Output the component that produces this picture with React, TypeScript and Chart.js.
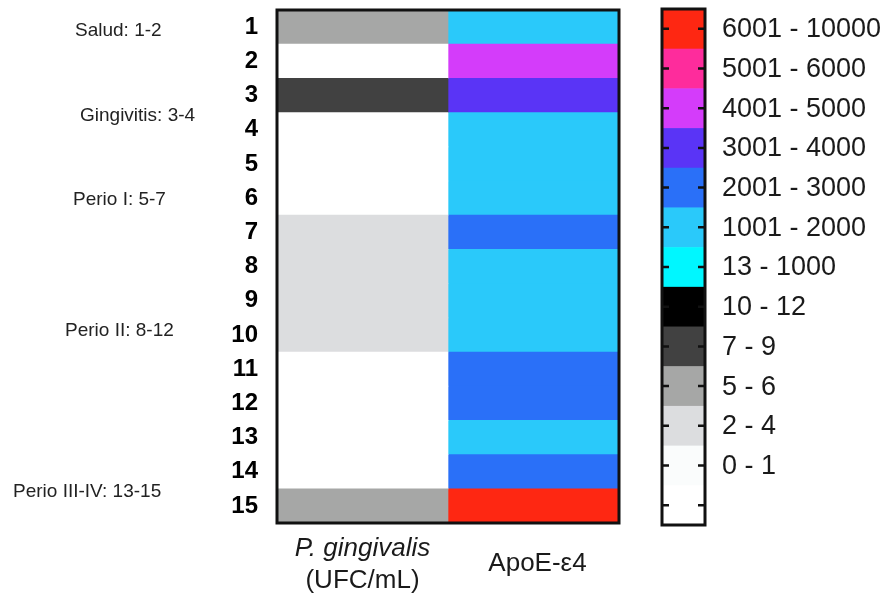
import React, { useEffect, useRef } from "react";
import { Chart, registerables } from "chart.js";

Chart.register(...registerables);

// ---- data ----
const rowLabels = ["1", "2", "3", "4", "5", "6", "7", "8", "9", "10", "11", "12", "13", "14", "15"];
const pgValues = [5, 0, 8, 0, 0, 0, 3, 3, 3, 3, 0, 0, 0, 0, 5];
const apoeValues = [1500, 4500, 3500, 1500, 1500, 1500, 2500, 1500, 1500, 1500, 2500, 2500, 1500, 2500, 8000];
const columnNames = ["P. gingivalis", "ApoE-ε4"];
const columnSubtitles = ["(UFC/mL)", ""];

const binLabels = ["6001 - 10000", "5001 - 6000", "4001 - 5000", "3001 - 4000", "2001 - 3000", "1001 - 2000", "13 - 1000", "10 - 12", "7 - 9", "5 - 6", "2 - 4", "0 - 1"];
const binLower = [6001, 5001, 4001, 3001, 2001, 1001, 13, 10, 7, 5, 2, 0];
const binColors = ["#fe2712", "#fe2c9c", "#d43cfa", "#5a34f6", "#2a70f8", "#2ac9fa", "#00f7ff", "#000000", "#414141", "#a6a7a6", "#dcdddf", "#fafcfc"];

const groupLabels = ["Salud: 1-2", "Gingivitis: 3-4", "Perio I: 5-7", "Perio II: 8-12", "Perio III-IV: 13-15"];
const groupRowPos = [1.1, 3.6, 6.05, 9.87, 14.58];

// ---- style ----
const FONT = "'Liberation Sans', Arial, sans-serif";
const groupLeftX = [75, 80, 73, 65, 13];

function colorFor(v: number): string {
  for (let i = 0; i < binLower.length; i++) {
    if (v >= binLower[i]) return binColors[i];
  }
  return "#ffffff";
}

const decorPlugin = {
  id: "decor",
  afterDraw(chart: any) {
    const ctx = chart.ctx as CanvasRenderingContext2D;
    const area = chart.chartArea;
    const xs = chart.scales.x;
    const ys = chart.scales.y;
    ctx.save();

    // heatmap frame
    ctx.strokeStyle = "#111";
    ctx.lineWidth = 3;
    ctx.strokeRect(area.left, area.top, area.right - area.left, area.bottom - area.top);

    // column labels
    ctx.fillStyle = "#1a1a1a";
    ctx.textAlign = "center";
    ctx.textBaseline = "alphabetic";
    const c0 = xs.getPixelForValue(0.5);
    const c1 = xs.getPixelForValue(1.5);
    ctx.font = `italic 26px ${FONT}`;
    ctx.fillText(columnNames[0], c0, 556);
    ctx.font = `26px ${FONT}`;
    ctx.fillText(columnSubtitles[0], c0, 588);
    ctx.fillText(columnNames[1], c1 + 4, 571);

    // group labels
    ctx.font = `19px ${FONT}`;
    ctx.textAlign = "left";
    ctx.textBaseline = "middle";
    ctx.fillStyle = "#222";
    groupLabels.forEach((t, i) => {
      const y = ys.getPixelForValue(groupRowPos[i] - 1);
      ctx.fillText(t, groupLeftX[i], y);
    });

    // colour bar legend
    const bx = 662;
    const bw = 43;
    const top = 9;
    const n = binLabels.length + 1;
    const segH = (525 - top) / n;
    for (let i = 0; i < n; i++) {
      ctx.fillStyle = i < binColors.length ? binColors[i] : "#ffffff";
      ctx.fillRect(bx, top + i * segH, bw, segH + 0.5);
    }
    ctx.strokeStyle = "#111";
    ctx.lineWidth = 3;
    ctx.strokeRect(bx, top, bw, segH * n);
    ctx.lineWidth = 2.5;
    for (let i = 0; i < n; i++) {
      const y = top + (i + 0.5) * segH;
      ctx.beginPath();
      ctx.moveTo(bx, y);
      ctx.lineTo(bx + 7, y);
      ctx.moveTo(bx + bw - 7, y);
      ctx.lineTo(bx + bw, y);
      ctx.stroke();
    }
    ctx.fillStyle = "#1a1a1a";
    ctx.font = `27px ${FONT}`;
    ctx.textAlign = "left";
    ctx.textBaseline = "middle";
    binLabels.forEach((t, i) => {
      ctx.fillText(t, 722, top + (i + 0.5) * segH + 1);
    });

    ctx.restore();
  },
};

export default function App() {
  const canvasRef = useRef<HTMLCanvasElement | null>(null);

  useEffect(() => {
    if (!canvasRef.current) return;
    const chart = new Chart(canvasRef.current, {
      type: "bar",
      data: {
        labels: rowLabels,
        datasets: [
          {
            label: columnNames[0],
            data: pgValues.map(() => [0, 1]) as any,
            backgroundColor: pgValues.map((v) => (v <= 1 ? "#ffffff" : colorFor(v))),
            borderWidth: 0,
            grouped: false,
            categoryPercentage: 1,
            barPercentage: 1,
          },
          {
            label: columnNames[1],
            data: apoeValues.map(() => [1, 2]) as any,
            backgroundColor: apoeValues.map((v) => colorFor(v)),
            borderWidth: 0,
            grouped: false,
            categoryPercentage: 1,
            barPercentage: 1,
          },
        ],
      },
      options: {
        indexAxis: "y",
        animation: false,
        responsive: true,
        maintainAspectRatio: false,
        layout: { padding: { top: 10, bottom: 76, right: 269, left: 0 } },
        scales: {
          x: { type: "linear", min: 0, max: 2, display: false },
          y: {
            type: "category",
            offset: true,
            grid: { display: false },
            border: { display: false },
            ticks: {
              autoSkip: false,
              color: "#000",
              padding: 11,
              font: { family: FONT, size: 24, weight: "bold" },
            },
            afterFit: (s: any) => {
              s.width = 277;
              s.paddingTop = 0;
              s.paddingBottom = 0;
            },
          },
        },
        plugins: {
          legend: { display: false },
          tooltip: { enabled: false },
        },
      },
      plugins: [decorPlugin],
    });
    return () => chart.destroy();
  }, []);

  return (
    <div style={{ position: "absolute", left: 0, top: 0, width: 888, height: 599, background: "#fff" }}>
      <canvas ref={canvasRef} />
    </div>
  );
}
